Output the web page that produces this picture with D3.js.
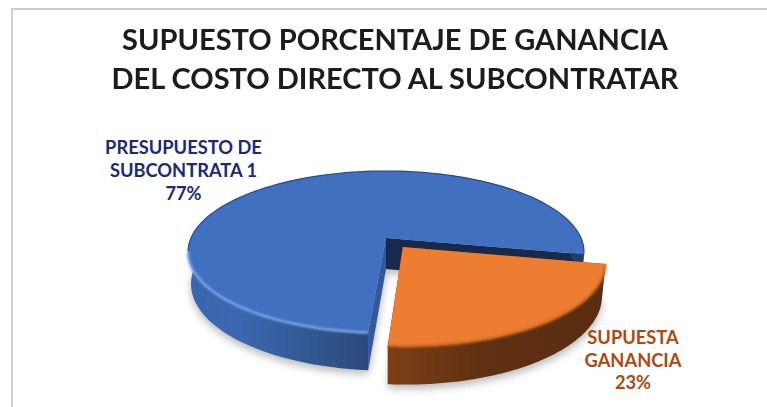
<!DOCTYPE html>
<html>
<head>
<meta charset="utf-8">
<script src="https://cdn.jsdelivr.net/npm/d3@7"></script>
<style>
html, body { margin: 0; padding: 0; background: #fff; }
svg { display: block; }
text { font-family: Lato, "Open Sans", sans-serif; font-weight: 700; }
</style>
</head>
<body>
<svg id="chart"></svg>
<script>
const width = 767;
const height = 407;

const titleLines = ["SUPUESTO PORCENTAJE DE GANANCIA", "DEL COSTO DIRECTO AL SUBCONTRATAR"];
const categories = ["PRESUPUESTO DE SUBCONTRATA 1", "SUPUESTA GANANCIA"];
const values = [77, 23];
const labelLines = [["PRESUPUESTO DE", "SUBCONTRATA 1", "77%"], ["SUPUESTA", "GANANCIA", "23%"]];

const cx = 386, cy = 238, radius = 195;
const tilt = 78.6, persp = 0.173, depth = 31;
const explode = [0, 0.14];
const firstAngle = 184.4 * Math.PI / 180;

const svg = d3.select("#chart").attr("width", width).attr("height", height);
const defs = svg.append("defs");

defs.append("filter").attr("id", "soft").attr("x", "-10%").attr("y", "-10%").attr("width", "120%").attr("height", "120%")
    .append("feGaussianBlur").attr("stdDeviation", 4);
defs.append("filter").attr("id", "edge").attr("filterUnits", "userSpaceOnUse")
    .attr("x", 0).attr("y", 0).attr("width", width).attr("height", height)
    .append("feGaussianBlur").attr("stdDeviation", 1.2);
defs.append("filter").attr("id", "text-soft")
    .append("feGaussianBlur").attr("stdDeviation", 0.35);

function sideGradient(id, stops) {
    const g = defs.append("linearGradient").attr("id", id)
        .attr("gradientUnits", "userSpaceOnUse")
        .attr("x1", 187).attr("x2", 610).attr("y1", 0).attr("y2", 0);
    stops.forEach(s => g.append("stop").attr("offset", s[0]).attr("stop-color", s[1]));
}
sideGradient("blueSide", [[0, "#3a66ad"], [0.12, "#3b68b2"], [0.3, "#31578f"], [0.45, "#2a4678"], [1, "#223a66"]]);
sideGradient("orangeSide", [[0, "#7a3f16"], [0.47, "#7d4015"], [0.7, "#5f3012"], [1, "#5a2c10"]]);

// circle coords (u, v) to the screen, level is 0 on top of the disc, 1 on the bottom
function project(u, v, level) {
    const s = 1 / (1 - persp * v);
    const shrink = level ? 0.985 : 1;
    return [cx + radius * u * s * shrink, cy + s * (tilt * v + level * depth)];
}

function rimPoints(d, off, level) {
    const pts = [];
    const n = 120;
    for (let i = 0; i <= n; i++) {
        const a = d.startAngle + (d.endAngle - d.startAngle) * i / n;
        pts.push(project(Math.sin(a) + off[0], -Math.cos(a) + off[1], level));
    }
    return pts;
}

const line = d3.line();
const pie = d3.pie().sort(null).startAngle(firstAngle).endAngle(firstAngle + 2 * Math.PI);
const slices = pie(values);

const offsets = slices.map((d, i) => {
    const mid = (d.startAngle + d.endAngle) / 2;
    return [Math.sin(mid) * explode[i], -Math.cos(mid) * explode[i]];
});

// frame
svg.append("path").attr("d", "M12,407V9H767").attr("fill", "none").attr("stroke", "#cfcfcf").attr("stroke-width", 2);

// soft shadow under the slices
slices.forEach((d, i) => {
    svg.append("path")
        .attr("d", line(rimPoints(d, offsets[i], 1).concat([project(offsets[i][0], offsets[i][1], 1)])) + "Z")
        .attr("fill", "#000").attr("opacity", 0.28)
        .attr("transform", "translate(0,4)")
        .attr("filter", "url(#soft)");
});

const sideFill = ["url(#blueSide)", "url(#orangeSide)"];
const topFill = ["#4070bf", "#ed7d31"];

slices.forEach((d, i) => {
    const off = offsets[i];
    const group = svg.append("g").attr("class", "slice").attr("data-name", categories[i]);
    const top = rimPoints(d, off, 0);
    const bottom = rimPoints(d, off, 1);
    const apexTop = project(off[0], off[1], 0);
    const apexBottom = project(off[0], off[1], 1);

    // cut faces
    group.append("path")
        .attr("d", line([apexTop, top[top.length - 1], bottom[bottom.length - 1], apexBottom]) + "Z")
        .attr("fill", i === 0 ? "#17294d" : "#5a2c10");
    group.append("path")
        .attr("d", line([apexTop, top[0], bottom[0], apexBottom]) + "Z")
        .attr("fill", i === 0 ? "#32599c" : "#7a3f16");

    // outer wall
    group.append("path")
        .attr("d", line(top.concat(bottom.slice().reverse())) + "Z")
        .attr("fill", sideFill[i]);

    // top of the slice
    group.append("path").attr("d", line(top.concat([apexTop])) + "Z").attr("fill", topFill[i]);

    // rim bevel, blue runs bottom -> left -> back -> right
    if (i === 0) {
        const turn = top.findIndex(p => p[1] < project(0, 0.17, 0)[1]);
        group.append("path").attr("d", line(top.slice(0, turn + 1))).attr("fill", "none")
            .attr("stroke", "#7aa5e6").attr("stroke-width", 2.5).attr("filter", "url(#edge)");
        group.append("path").attr("d", line(top.slice(turn))).attr("fill", "none")
            .attr("stroke", "#2a4d8a").attr("stroke-width", 1.2);
    } else {
        group.append("path").attr("d", line(top)).attr("fill", "none")
            .attr("stroke", "#c9651f").attr("stroke-width", 2.5).attr("filter", "url(#edge)");
    }
});

// title
svg.append("g").selectAll("text").data(titleLines).join("text")
    .attr("x", 395)
    .attr("y", (d, i) => 50 + i * 39)
    .attr("text-anchor", "middle")
    .attr("font-size", 29)
    .attr("fill", "#1a1a1a")
    .attr("filter", "url(#text-soft)")
    .text(d => d);

// data labels
const labelX = [183.5, 633];
const labelY = [153.5, 344];
const labelStep = [23.3, 22.5];
const labelColor = ["#1a2a78", "#b0480f"];
labelLines.forEach((lines, i) => {
    svg.append("g").selectAll("text").data(lines).join("text")
        .attr("x", labelX[i])
        .attr("y", (d, j) => labelY[i] + j * labelStep[i])
        .attr("text-anchor", "middle")
        .attr("font-size", 18.3)
        .attr("fill", labelColor[i])
        .text(d => d);
});
</script>
</body>
</html>
